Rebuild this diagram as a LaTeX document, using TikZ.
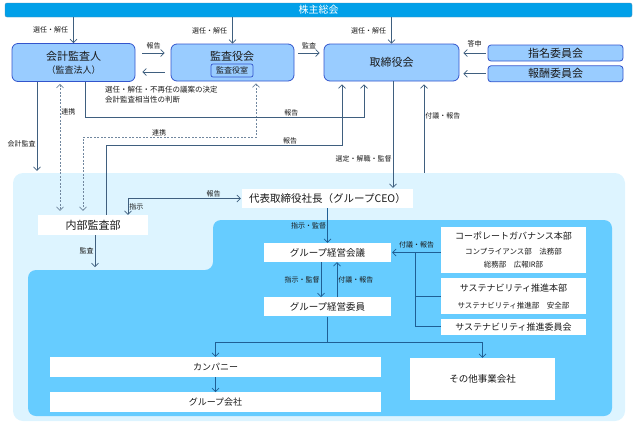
\documentclass[tikz,border=0pt]{standalone}
\usepackage{fontspec}
\newfontfamily\jp{Noto Sans CJK JP}
\usetikzlibrary{positioning,arrows.meta}
\newcommand\jpfs[1]{\fontsize{#1pt}{#1pt}\selectfont}
\definecolor{barC}{HTML}{00A0E9}
\definecolor{barD}{HTML}{4A8DB8}
\definecolor{boxC}{HTML}{99CCFF}
\definecolor{boxD}{HTML}{3355CC}
\definecolor{outC}{HTML}{DDF4FF}
\definecolor{inC}{HTML}{66CCFF}
\definecolor{lineC}{HTML}{3F5F7F}
\definecolor{lineB}{HTML}{1F5F95}
\definecolor{dashC}{HTML}{71879F}
\definecolor{txtC}{HTML}{1A1A1A}
\begin{document}
\begin{tikzpicture}[x=1pt, y=-1pt,
    every node/.style={font=\jp\jpfs{7}, text=txtC, inner sep=1pt},
    bar/.style={draw=barD, fill=barC, rounded corners=2pt, minimum width=627pt, minimum height=14pt, inner sep=0pt, text=white, font=\jp\jpfs{10}},
    topbox/.style={draw=boxD, fill=boxC, line width=0.8pt, rounded corners=6pt, minimum width=123pt, minimum height=37pt, inner sep=0pt, font=\jp\jpfs{11}, align=center},
    cmtbox/.style={draw=boxD, fill=boxC, line width=0.8pt, rounded corners=3pt, minimum width=135pt, minimum height=16pt, inner sep=0pt, font=\jp\jpfs{11}},
    whitebox/.style={fill=white, minimum height=19pt, inner sep=0pt, font=\jp\jpfs{9.5}, align=center},
    conn/.style={draw=lineC, line width=0.7pt, >={Straight Barb[length=3.5pt,width=7pt]}, ->},
    lowconn/.style={conn, draw=lineB},
    lowline/.style={draw=lineB, line width=0.7pt},
    dconn/.style={draw=dashC, line width=0.7pt, dash pattern=on 2pt off 1.5pt, >={Straight Barb[length=3.5pt,width=7pt]}, <->}]
  \useasboundingbox (0,0) rectangle (635,424);

  % group area
  \node (OUT) [fill=outC, rounded corners=10pt, minimum width=612pt, minimum height=248pt] at (319,297) {};
  \fill[inC, rounded corners=8pt] (213,220) -- (612,220) -- (612,416) -- (28,416) -- (28,270) -- (213,270) -- cycle;

  \node (GM) [bar] at (318.5,10) {株主総会};              % general meeting

  % top row
  \node (AUD) [topbox, minimum height=38pt] at (73.5,62.5) {会計監査人\\[2pt]{\jpfs{9}（監査法人）}};
  \node (KAN) [topbox] at (232.5,62.5) {};
  \node (KANS) [draw=boxD, fill=boxC, line width=0.7pt, rounded corners=2pt, minimum width=42pt, minimum height=13pt, inner sep=0pt, font=\jp\jpfs{8}] at (232,70.5) {監査役室};
  \node (KANT) [above=1pt of KANS, font=\jp\jpfs{11}] {監査役会};
  \node (BOD) [topbox, minimum width=135pt] at (391.5,62.5) {取締役会};
  \node (NOM) [cmtbox] at (555.5,53) {指名委員会};
  \node (REM) [cmtbox, below=4pt of NOM] {報酬委員会};
  \node (NOTE) [anchor=west, align=left, font=\jp\jpfs{7.5}] at (104,95) {選任・解任・不再任の議案の決定\\[2.5pt]会計監査相当性の判断};

  % group side
  \node (IA) [whitebox, minimum width=110pt, minimum height=20pt, font=\jp\jpfs{11}] at (93,225) {内部監査部};
  \node (CEO) [whitebox, minimum width=171pt, font=\jp\jpfs{10.5}] at (327.5,198.5) {代表取締役社長（グループCEO）};
  \node (GMC) [whitebox, minimum width=127pt] at (327.5,252.5) {グループ経営会議};
  \node (GME) [whitebox, minimum width=127pt, below=35pt of GMC] {グループ経営委員};
  \node (CG) [whitebox, minimum width=145pt, minimum height=46pt] at (513.5,250)
    {{\jpfs{9}コーポレートガバナンス本部}\\[5pt]{\jpfs{7.5}コンプライアンス部　法務部}\\[4pt]{\jpfs{7.5}総務部　広報IR部}};
  \node (SUS) [whitebox, minimum width=145pt, minimum height=36pt, below=5pt of CG]
    {{\jpfs{9}サステナビリティ推進本部}\\[7pt]{\jpfs{7.5}サステナビリティ推進部　安全部}};
  \node (SUSC) [whitebox, minimum width=145pt, minimum height=16pt, below=4pt of SUS, font=\jp\jpfs{9}] {サステナビリティ推進委員会};
  \node (COMP) [whitebox, minimum width=331pt, minimum height=20pt, font=\jp\jpfs{9}] at (215.5,367) {カンパニー};
  \node (GRP) [whitebox, minimum width=331pt, minimum height=20pt, font=\jp\jpfs{9}, below=15pt of COMP] {グループ会社};
  \node (OTH) [whitebox, minimum width=145pt, minimum height=42pt] at (482.5,379) {その他事業会社};

  % from the general meeting
  \draw[conn] (AUD.north |- GM.south) -- node[left=4pt] {選任・解任} (AUD.north);
  \draw[conn] (KAN.north |- GM.south) -- node[left=4pt] {選任・解任} (KAN.north);
  \draw[conn] (BOD.north |- GM.south) -- node[left=4pt] {選任・解任} (BOD.north);

  % top row
  \draw[conn] ([xshift=7pt,yshift=9.5pt]AUD.east) -- node[above=3pt] {報告} ([xshift=-6pt,yshift=9.5pt]KAN.west);
  \draw[conn] ([xshift=-6pt,yshift=-9.5pt]KAN.west) -- ([xshift=7pt,yshift=-9.5pt]AUD.east);
  \draw[conn] ([xshift=4pt,yshift=9.5pt]KAN.east) -- node[above=3pt] {監査} ([xshift=-4pt,yshift=9.5pt]BOD.west);
  \draw[conn] ([xshift=-2pt]NOM.west) -- node[above=5pt] {答申} ([xshift=4pt]BOD.east |- NOM.west);
  \draw[conn] ([xshift=-2pt]REM.west) -- ([xshift=4pt]BOD.east |- REM.west);

  % down to the group
  \draw[conn] ([xshift=-36.5pt]AUD.south) -- node[left, pos=0.7] {会計監査} ++(0,89);
  \draw[dconn] ([xshift=-13.5pt,yshift=-2pt]AUD.south) -- node[right, pos=0.22] {連携} ([xshift=-33pt,yshift=4pt]IA.north);
  \draw[dconn] ([xshift=23.5pt,yshift=-2pt]KAN.south) -- ++(0,54) -| node[above, pos=0.28] {連携} ([xshift=-10pt,yshift=4pt]IA.north);
  \draw[conn] ([xshift=11.5pt]AUD.south) -- ++(0,35.5) -| node[above, pos=0.37] {報告} ([xshift=-27.5pt,yshift=-3pt]BOD.south);
  \draw[conn] ([xshift=13pt]IA.north) -- ++(0,-69) -| node[above, pos=0.39] {報告} ([xshift=-49.5pt,yshift=-3pt]BOD.south);
  \draw[conn] ([xshift=1.5pt]BOD.south) -- node[left, pos=0.73] {選定・解職・監督} ([xshift=1.5pt,yshift=1pt]BOD.south |- CEO.north);
  \draw[conn] ([xshift=32.5pt]BOD.south |- OUT.north) -- node[right, pos=0.64] {付議・報告} ([xshift=32.5pt,yshift=-3pt]BOD.south);

  % inside the group
  \draw[conn, <->] ([xshift=35pt]IA.north) |- node[right, pos=0.25] {指示} node[above, pos=0.88] {報告} ([xshift=-1pt]CEO.west);
  \draw[conn] ([xshift=2pt]IA.south) -- node[left] {監査} ++(0,32);
  \draw[lowconn] (CEO.south) -- node[left] {指示・監督} (GMC.north);
  \draw[lowconn] ([xshift=-6.5pt]GMC.south) -- node[left] {指示・監督} ([xshift=-6.5pt]GME.north);
  \draw[lowconn] ([xshift=9.5pt]GME.north) -- node[right] {付議・報告} ([xshift=9.5pt]GMC.south);
  \coordinate (BUS) at ([xshift=-25pt]CG.west |- GMC.east);
  \draw[lowconn] (CG.west |- GMC.east) -- node[above=3pt] {付議・報告} ([xshift=1pt]GMC.east);
  \draw[lowline] (BUS) |- (SUS.west);
  \draw[lowline] (BUS) |- (SUSC.west);
  \draw[lowconn] (GME.south) -- ++(0,26) -| (COMP.north);
  \draw[lowconn] (GME.south) -- ++(0,26) -| (OTH.north);
  \draw[lowconn] (COMP.south) -- (GRP.north);
\end{tikzpicture}
\end{document}
